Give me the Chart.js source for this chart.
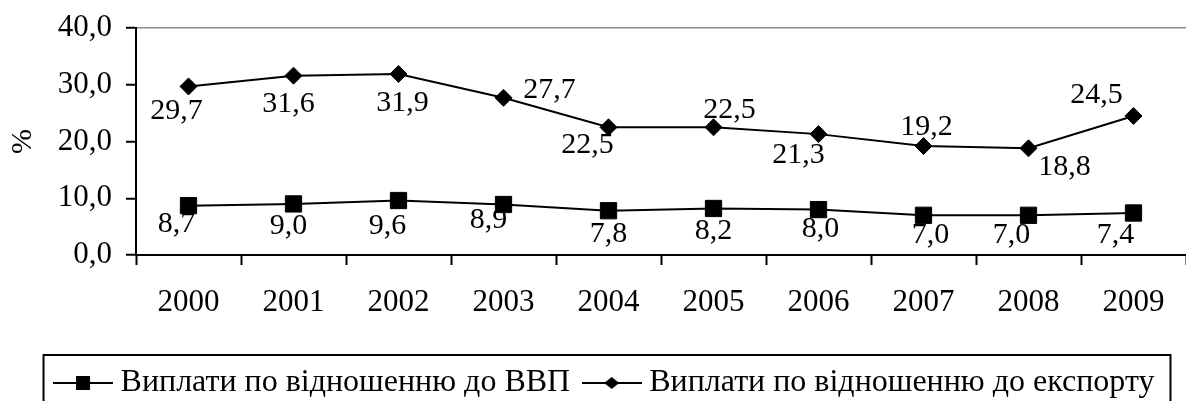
<!DOCTYPE html>
<html>
<head>
<meta charset="utf-8">
<script src="https://cdn.jsdelivr.net/npm/chart.js@4/dist/chart.umd.min.js"></script>
<style>
  html, body { margin: 0; padding: 0; background: #fff; }
  #chart { display: block; }
</style>
</head>
<body>
<canvas id="chart" width="1186" height="401"></canvas>
<script>
const years = ["2000", "2001", "2002", "2003", "2004", "2005", "2006", "2007", "2008", "2009"];
const gdpValues = [8.7, 9.0, 9.6, 8.9, 7.8, 8.2, 8.0, 7.0, 7.0, 7.4];
const exportValues = [29.7, 31.6, 31.9, 27.7, 22.5, 22.5, 21.3, 19.2, 18.8, 24.5];
const yMin = 0;
const yMax = 40;
const yStep = 10;
const gdpLabel = "Виплати по відношенню до ВВП";
const exportLabel = "Виплати по відношенню до експорту";
const yTitle = "%";

// where each value label sits relative to its marker (px)
const gdpLabelShift = [[-12, 18], [-5, 22], [-11, 26], [-15, 16], [0, 23], [0, 23], [2, 20], [7, 20], [-17, 20], [-18, 22]];
const exportLabelShift = [[-12, 25], [-5, 28], [4, 29], [46, -8], [-21, 18], [16, -17], [-20, 21], [3, -19], [36, 19], [-37, -21]];

const serif = "'Liberation Serif', 'Times New Roman', serif";
const fmt = (v) => v.toFixed(1).replace(".", ",");

const legendFontSize = 32;
const plotTop = 28;
const plotBottom = 255;

const makeLegendIcon = (shape) => {
  const c = document.createElement("canvas");
  c.width = 60;
  c.height = 20;
  const g = c.getContext("2d");
  g.strokeStyle = "#000";
  g.fillStyle = "#000";
  g.lineWidth = 2;
  g.beginPath();
  g.moveTo(0, 10);
  g.lineTo(60, 10);
  g.stroke();
  if (shape === "square") {
    g.fillRect(23, 3, 14, 14);
  } else {
    g.beginPath();
    g.moveTo(30, 4);
    g.lineTo(37.5, 10);
    g.lineTo(30, 16);
    g.lineTo(22.5, 10);
    g.closePath();
    g.fill();
  }
  return c;
};

const legendIcons = [makeLegendIcon("square"), makeLegendIcon("diamond")];

const pointLabels = {
  id: "pointLabels",
  afterDatasetsDraw(chart) {
    const ctx = chart.ctx;
    ctx.save();
    ctx.font = "30px " + serif;
    ctx.fillStyle = "#000";
    ctx.textAlign = "center";
    ctx.textBaseline = "middle";
    chart.data.datasets.forEach((ds, i) => {
      chart.getDatasetMeta(i).data.forEach((pt, j) => {
        const [dx, dy] = ds.labelShift[j];
        ctx.fillText(fmt(ds.data[j]), pt.x + dx, pt.y + dy);
      });
    });
    ctx.restore();
  },
};

// the legend sits low and a bit right of centre, cut by the bottom edge
const legendPlacement = {
  id: "legendPlacement",
  afterLayout(chart) {
    const lg = chart.legend;
    const pad = lg.options.labels.padding;
    const top = 383 - pad - legendFontSize / 2;
    lg.top = top;
    lg.bottom = top + lg.height;
    lg.left += 15;
    lg.right += 15;
  },
};

const legendFrame = {
  id: "legendFrame",
  afterDraw(chart) {
    const boxes = chart.legend.legendHitBoxes;
    if (!boxes || !boxes.length) return;
    const first = boxes[0];
    const last = boxes[boxes.length - 1];
    const ctx = chart.ctx;
    ctx.save();
    ctx.strokeStyle = "#000";
    ctx.lineWidth = 2;
    const left = first.left - 18;
    const right = last.left + last.width + 16;
    ctx.strokeRect(left, first.top - 12, right - left, 80);
    ctx.restore();
  },
};

const ctx = document.querySelector("#chart").getContext("2d");

new Chart(ctx, {
  type: "line",
  data: {
    labels: years,
    datasets: [
      {
        label: gdpLabel,
        data: gdpValues,
        labelShift: gdpLabelShift,
        borderColor: "#000",
        borderWidth: 2,
        backgroundColor: "#000",
        pointStyle: "rect",
        pointRadius: 11.5,
        pointBorderWidth: 1,
        pointBackgroundColor: "#000",
        pointBorderColor: "#000",
        tension: 0,
      },
      {
        label: exportLabel,
        data: exportValues,
        labelShift: exportLabelShift,
        borderColor: "#000",
        borderWidth: 2,
        backgroundColor: "#000",
        pointStyle: "rectRot",
        pointRadius: 8.5,
        pointBorderWidth: 1,
        pointBackgroundColor: "#000",
        pointBorderColor: "#000",
        tension: 0,
      },
    ],
  },
  options: {
    responsive: false,
    animation: false,
    devicePixelRatio: 1,
    layout: {
      autoPadding: false,
      padding: { top: plotTop, left: 0, right: 0, bottom: 0 },
    },
    plugins: {
      tooltip: { enabled: false },
      legend: {
        display: true,
        position: "bottom",
        labels: {
          usePointStyle: true,
          pointStyleWidth: 43,
          padding: 20,
          color: "#000",
          font: { family: serif, size: legendFontSize },
          generateLabels: (chart) =>
            chart.data.datasets.map((ds, i) => ({
              text: ds.label,
              pointStyle: legendIcons[i],
              fillStyle: "#000",
              strokeStyle: "#000",
              lineWidth: 0,
              hidden: false,
              datasetIndex: i,
            })),
        },
      },
    },
    scales: {
      x: {
        type: "category",
        offset: true,
        grid: {
          offset: true,
          drawOnChartArea: false,
          drawTicks: true,
          tickLength: 10,
          tickColor: "#000",
          tickWidth: 2,
        },
        border: { color: "#000", width: 2 },
        ticks: {
          color: "#000",
          font: { family: serif, size: 31 },
          padding: 19,
          maxRotation: 0,
          autoSkip: false,
        },
        afterFit: (scale) => {
          const chart = scale.chart;
          const legendH = chart.legend ? chart.legend.height : 0;
          scale.height = chart.height - plotBottom - legendH;
          scale.paddingLeft = 0;
          scale.paddingRight = 0;
        },
      },
      y: {
        min: yMin,
        max: yMax,
        ticks: {
          stepSize: yStep,
          color: "#000",
          font: { family: serif, size: 31 },
          padding: 14,
          callback: (v) => fmt(v),
        },
        grid: {
          drawTicks: true,
          tickLength: 10,
          tickColor: "#000",
          tickWidth: 2,
          lineWidth: 1.5,
          color: (c) => (c.tick && c.tick.value === yMax ? "#8c8c8c" : "rgba(0,0,0,0)"),
        },
        border: { color: "#000", width: 2 },
        title: {
          display: true,
          text: yTitle,
          color: "#000",
          font: { family: serif, size: 30 },
          padding: { top: 5, bottom: 0 },
        },
        afterFit: (scale) => {
          scale.width = 136;
          scale.paddingTop = 0;
        },
      },
    },
  },
  plugins: [pointLabels, legendPlacement, legendFrame],
});
</script>
</body>
</html>
